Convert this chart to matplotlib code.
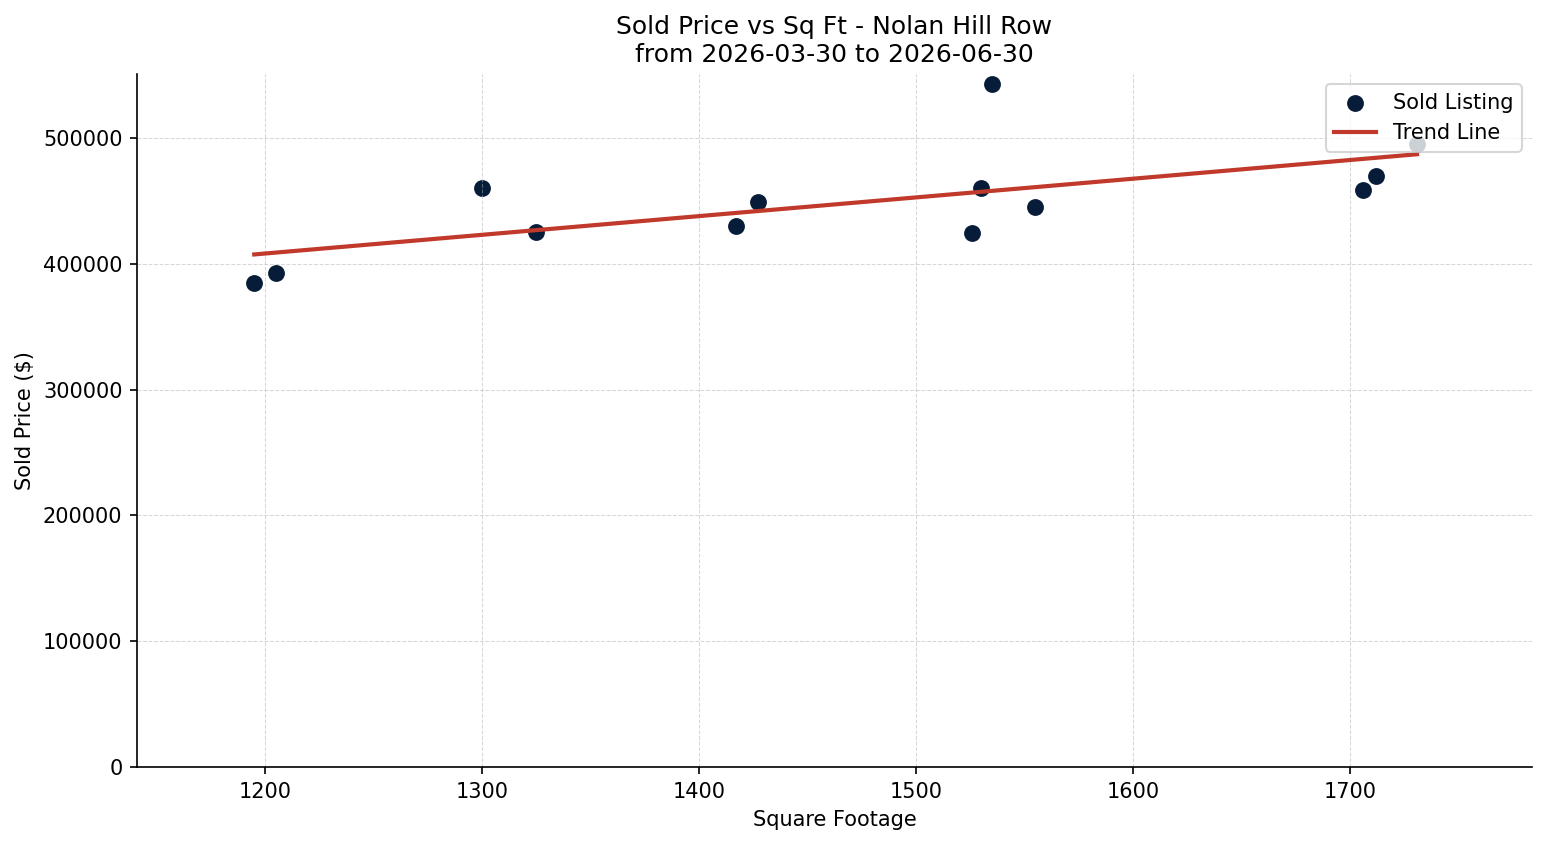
import numpy as np
import matplotlib
matplotlib.use('Agg')
import matplotlib.pyplot as plt

# Sold listings (square footage, sold price)
sqft = [1195, 1205, 1300, 1325, 1417, 1427, 1526, 1530, 1535, 1555, 1706, 1712, 1731]
price = [385000, 392500, 460000, 425000, 430000, 449000, 424500, 460000, 543000, 445000, 458500, 470000, 495000]

title = 'Sold Price vs Sq Ft - Nolan Hill Row\nfrom 2026-03-30 to 2026-06-30'

fig, ax = plt.subplots(figsize=(1547 / 150, 845 / 150), dpi=150)
fig.subplots_adjust(left=0.0886, right=0.9903, top=0.9124, bottom=0.0923)

ax.scatter(sqft, price, s=50, color='#061c38', label='Sold Listing')

# Linear trend
coef = np.polyfit(sqft, price, 1)
xs = np.array([min(sqft), max(sqft)])
ax.plot(xs, np.polyval(coef, xs), color='#c0392b', linewidth=2, label='Trend Line')

ax.set_xlim(1141, 1784)
ax.set_ylim(0, 551000)

ax.set_title(title, fontsize=12)
ax.set_xlabel('Square Footage')
ax.set_ylabel('Sold Price ($)')

ax.grid(True, linestyle='--', linewidth=0.5, alpha=0.5)
ax.spines['top'].set_visible(False)
ax.spines['right'].set_visible(False)

ax.legend(loc='upper right')

fig.savefig('out.png', dpi=150)
